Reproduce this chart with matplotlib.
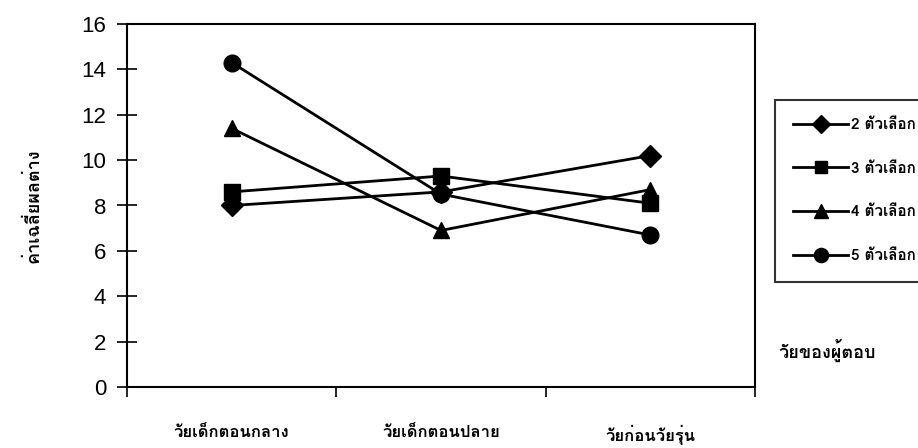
import matplotlib
matplotlib.use('Agg')
import matplotlib.pyplot as plt
from matplotlib import font_manager
from matplotlib.ft2font import FT2Font

# data
categories = ['วัยเด็กตอนกลาง', 'วัยเด็กตอนปลาย', 'วัยก่อนวัยรุ่น']
series_names = ['2 ตัวเลือก', '3 ตัวเลือก', '4 ตัวเลือก', '5 ตัวเลือก']
choice2 = [8.0, 8.6, 10.2]
choice3 = [8.6, 9.3, 8.1]
choice4 = [11.4, 6.9, 8.7]
choice5 = [14.3, 8.5, 6.7]
yticks = [0, 2, 4, 6, 8, 10, 12, 14, 16]


def find_thai_font():
    # pick an installed font that actually has Thai glyphs
    found = []
    for f in font_manager.fontManager.ttflist:
        try:
            if 0x0E27 in FT2Font(f.fname).get_charmap():
                found.append(f.name)
        except Exception:
            pass
    for pref in ['Loma', 'Garuda', 'Norasi', 'Noto Sans Thai', 'DejaVu Sans']:
        if pref in found:
            return pref
    return found[0] if found else 'DejaVu Sans'


thai = find_thai_font()
plt.rcParams['font.family'] = [thai, 'DejaVu Sans']

fig = plt.figure(figsize=(9.18, 4.48), dpi=100)
ax = fig.add_axes([127/918, 1-387/448, (755-127)/918, (387-24)/448])

x = list(range(len(categories)))
markers = ['D', 's', '^', 'o']
sizes = [11, 11, 12, 12]
for vals, m, ms, name in zip([choice2, choice3, choice4, choice5], markers, sizes, series_names):
    ax.plot(x, vals, color='black', linewidth=2, marker=m, markersize=ms, label=name)

ax.set_xlim(-0.5, 2.5)
ax.set_ylim(0, 16)
ax.set_yticks(yticks)
ax.set_yticklabels([str(v) for v in yticks], family=['Liberation Sans', 'DejaVu Sans'], fontsize=16)
ax.tick_params(axis='y', direction='inout', length=14, width=1.2, pad=8)

ax.set_xticks(x)
ax.set_xticklabels(categories, fontsize=12, fontweight='bold')
ax.tick_params(axis='x', length=0, pad=27)
ax.set_xticks([-0.5, 0.5, 1.5, 2.5], minor=True)
ax.tick_params(axis='x', which='minor', direction='out', length=7, width=1.2)

for s in ax.spines.values():
    s.set_linewidth(1.5)
    s.set_color('black')

ax.set_ylabel('ค่าเฉลี่ยผลต่าง', fontsize=13, fontweight='bold', labelpad=28)

fig.text(778/918, 1-350/448, 'วัยของผู้ตอบ', fontsize=13, fontweight='bold', va='center')

# legend box runs past the right edge, as in the scan
leg = ax.legend(loc='upper left', mode='expand',
                bbox_to_anchor=(775/918, 1-100/448, 200/918, 0.001),
                bbox_transform=fig.transFigure, frameon=True, fancybox=False,
                prop={'size': 11, 'weight': 'bold'}, handlelength=3.6, markerscale=0.85,
                labelspacing=1.95, borderpad=1.2, handletextpad=0.15, borderaxespad=0)
leg.get_frame().set_edgecolor('black')
leg.get_frame().set_linewidth(1.5)

fig.savefig('out.png', dpi=100)
